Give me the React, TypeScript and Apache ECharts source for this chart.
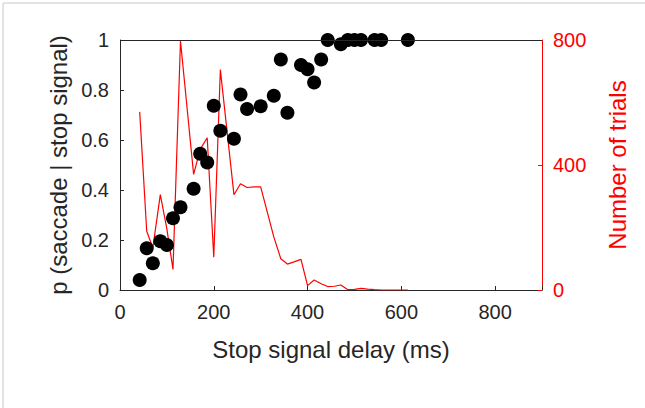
import React, { useEffect, useRef } from "react";
import * as echarts from "echarts";

// Stop signal delay (ms) for each point of the inhibition function
const dotDelays = [42, 57, 70, 86, 100, 113, 129, 157, 171, 186, 200, 214, 243, 257, 271, 300, 328, 343, 357, 386, 400, 414, 429, 443, 471, 486, 500, 514, 543, 557, 614];
// p(saccade | stop signal)
const dotProbs = [0.04, 0.167, 0.107, 0.195, 0.18, 0.287, 0.331, 0.405, 0.545, 0.51, 0.737, 0.637, 0.605, 0.782, 0.724, 0.735, 0.777, 0.922, 0.709, 0.9, 0.883, 0.83, 0.922, 1.0, 0.983, 1.0, 1.0, 1.0, 1.0, 1.0, 1.0];

// Number of trials per delay
const trialDelays = [42, 57, 70, 86, 100, 113, 129, 157, 171, 186, 200, 214, 243, 257, 271, 286, 300, 314, 328, 343, 357, 371, 386, 400, 414, 429, 443, 457, 471, 486, 500, 514, 528, 543, 557, 571, 586, 600, 614];
const trialCounts = [570, 188, 135, 305, 195, 66, 797, 370, 450, 487, 105, 705, 305, 340, 328, 330, 330, 250, 170, 100, 83, 90, 98, 14, 32, 20, 11, 12, 16, 1, 2, 5, 3, 1, 0, 0, 0, 0, 0];

const xTicks = [0, 200, 400, 600, 800];
const X_MAX = 900;

const INK = "#262626";
const RED = "#ff0000";
const FONT = "'Liberation Sans', Arial, sans-serif";

// layout of the axes box
const W = 645;
const H = 408;
const G_LEFT = 120;
const G_RIGHT = 103;
const G_TOP = 40;
const G_BOTTOM = 118;

export default function App() {
  const ref = useRef<HTMLDivElement>(null);
  useEffect(() => {
    if (!ref.current) return;
    const chart = echarts.init(ref.current, null, { renderer: "svg" });
    chart.setOption({
      animation: false,
      backgroundColor: "#ffffff",
      textStyle: { fontFamily: FONT },
      graphic: [
        {
          type: "rect",
          shape: { x: 3, y: 3, width: 800, height: 600 },
          style: { fill: "none", stroke: "#c8c8c8", lineWidth: 1 },
          silent: true,
          z: -10,
        },
      ],
      grid: { left: G_LEFT, right: G_RIGHT, top: G_TOP, bottom: G_BOTTOM },
      xAxis: [
        {
          type: "value",
          min: 0,
          max: X_MAX,
          interval: 200,
          position: "bottom",
          name: "Stop signal delay (ms)",
          nameLocation: "middle",
          nameGap: 47,
          nameTextStyle: { fontSize: 24, color: INK, fontFamily: FONT },
          axisLine: { show: true, onZero: false, lineStyle: { color: INK, width: 1 } },
          axisTick: { show: true, inside: true, length: 4, lineStyle: { color: INK } },
          axisLabel: {
            fontSize: 20,
            color: INK,
            margin: 12,
            fontFamily: FONT,
            formatter: (v: number) => (xTicks.includes(v) ? String(v) : ""),
          },
          splitLine: { show: false },
        },
      ],
      yAxis: [
        {
          type: "value",
          min: 0,
          max: 1,
          interval: 0.2,
          position: "left",
          name: "p (saccade | stop signal)",
          nameLocation: "middle",
          nameRotate: 90,
          nameGap: 42,
          nameTextStyle: { fontSize: 24, color: INK, fontFamily: FONT },
          axisLine: { show: true, onZero: false, lineStyle: { color: INK, width: 1 } },
          axisTick: { show: true, inside: true, length: 4, lineStyle: { color: INK } },
          axisLabel: { fontSize: 20, color: INK, margin: 11, fontFamily: FONT },
          splitLine: { show: false },
        },
        {
          type: "value",
          min: 0,
          max: 800,
          interval: 400,
          position: "right",
          name: "Number of trials",
          nameLocation: "middle",
          nameRotate: 90,
          nameGap: 63,
          nameTextStyle: { fontSize: 24, color: RED, fontFamily: FONT },
          axisLine: { show: true, onZero: false, lineStyle: { color: RED, width: 1 } },
          axisTick: { show: true, inside: true, length: 4, lineStyle: { color: RED } },
          axisLabel: { fontSize: 20, color: RED, margin: 11, fontFamily: FONT },
          splitLine: { show: false },
        },
      ],
      series: [
        {
          type: "line",
          yAxisIndex: 1,
          data: trialDelays.map((d, i) => [d, trialCounts[i]]),
          showSymbol: false,
          symbol: "none",
          lineStyle: { color: RED, width: 1.2 },
          z: 2,
        },
        {
          type: "scatter",
          yAxisIndex: 0,
          data: dotDelays.map((d, i) => [d, dotProbs[i]]),
          symbol: "circle",
          symbolSize: 14,
          itemStyle: { color: "#000000", opacity: 1 },
          z: 3,
        },
      ],
    });
    return () => chart.dispose();
  }, []);
  const boxW = W - G_RIGHT - G_LEFT;
  return (
    <div style={{ position: "fixed", left: 0, top: 0, width: W, height: H }}>
      <div ref={ref} style={{ position: "absolute", left: 0, top: 0, width: W, height: H }} />
      <div
        style={{
          position: "absolute",
          left: G_LEFT,
          top: G_TOP,
          width: boxW,
          height: 0,
          borderTop: `1px solid ${INK}`,
          pointerEvents: "none",
        }}
      />
    </div>
  );
}
